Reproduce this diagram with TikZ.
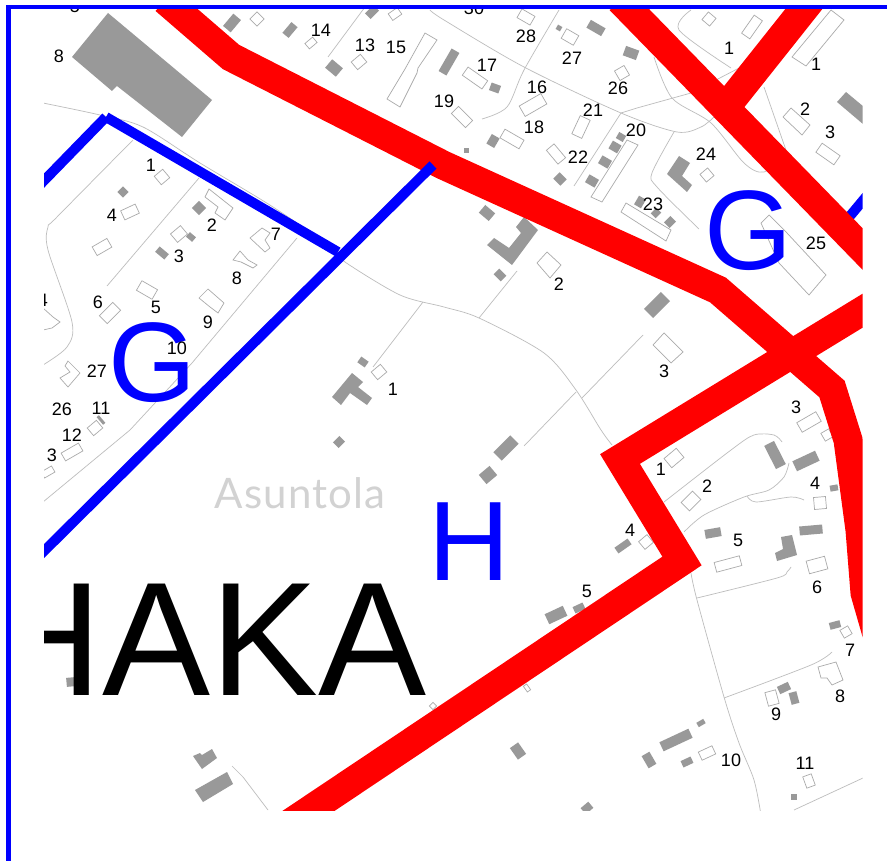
\documentclass[tikz,border=0pt]{standalone}
\usepackage{fontspec}
\setmainfont{Liberation Sans}
\newfontfamily\asufont[LetterSpace = 2.5]{Lato}
\definecolor{plotgray}{HTML}{999999}
\definecolor{roadgray}{HTML}{BDBDBD}
\definecolor{houseline}{HTML}{AAAAAA}
\tikzset{
    roadline/.style = {draw = roadgray, line width = 0.7pt},
    plotbuilding/.style = {fill = plotgray},
    plothouse/.style = {draw = houseline, line width = 0.7pt, fill = white},
    redborder/.style = {draw = red, line width = 29pt, line join = miter},
    blueborder/.style = {draw = blue, line width = 10pt, line join = miter},
    plotnum/.style = {inner sep = 0pt, font = \fontsize{18}{18}\selectfont},
    zoneletter/.style = {inner sep = 0pt, anchor = base, text = blue, font = \fontsize{113}{113}\selectfont}
}
\begin{document}
\begin{tikzpicture}[x = 1pt, y = -1pt]
    \useasboundingbox (0,0) rectangle (887,861);
    \fill[white] (0,0) rectangle (887,861);
    \begin{scope}
        \clip (44,10) rectangle (862.5,810);
        \draw[roadline] plot[smooth, tension = 0.5] coordinates{(43,103) (100,115) (143,127) (200,163) (273,207) (338,252) (345,262) (400,295) (444,307) (479,318) (544,353) (576,390) (601,430) (612,445)};
        \draw[roadline] plot[smooth, tension = 0.5] coordinates{(691,573) (697,600) (724,697) (739,743) (754,780) (761,815)};
        \draw[roadline] plot[smooth, tension = 0.5] coordinates{(133,140) (57,217) (48,227) (48,250) (72,322) (67,347) (43,365)};
        \draw[roadline] (199,178) -- (107,286);
        \draw[roadline] (297,238) -- (192,363) -- (130,430) -- (43,502);
        \draw[roadline] (423,302) -- (373,367);
        \draw[roadline] (328,57) -- (365,7);
        \draw[roadline] plot[smooth, tension = 0.5] coordinates{(430,10) (444,20) (524,67) (621,113) (677,132) (701,127) (714,117)};
        \draw[roadline] plot[smooth, tension = 0.5] coordinates{(559,10) (524,70) (507,107) (482,119)};
        \draw[roadline] (621,113) -- (574,186);
        \draw[roadline] (621,113) -- (637,108) -- (691,93) -- (741,67);
        \draw[roadline] plot[smooth, tension = 0.5] coordinates{(654,57) (672,98) (711,123) (744,163) (764,172) (787,153)};
        \draw[roadline] plot[smooth, tension = 0.5] coordinates{(691,10) (679,30) (731,68)};
        \draw[roadline] (764,87) -- (787,153);
        \draw[roadline] plot[smooth, tension = 0.5] coordinates{(674,132) (652,173) (657,187) (699,229)};
        \draw[roadline] (517,271) -- (479,318);
        \draw[roadline] (643,335) -- (582,398);
        \draw[roadline] (576,392) -- (524,446);
        \draw[roadline] plot[smooth, tension = 0.5] coordinates{(664,502) (731,450) (754,435) (774,435) (782,442)};
        \draw[roadline] plot[smooth, tension = 0.5] coordinates{(684,532) (704,515) (744,497) (769,490) (784,477) (789,463)};
        \draw[roadline] plot[smooth, tension = 0.5] coordinates{(747,496) (756,502) (791,497) (804,500)};
        \draw[roadline] plot[smooth, tension = 0.5] coordinates{(697,598) (777,578) (787,572) (791,567)};
        \draw[roadline] plot[smooth, tension = 0.5] coordinates{(724,698) (811,665) (832,652)};
        \draw[roadline] (794,810) -- (863,778);
        \draw[roadline] (232,766) -- (243,777) -- (268,810);
        \foreach \x/\y/\w/\h/\a in {257/19/10/10/45, 395/14/11/8/35, 311/43/10/7/40, 359/62/12/10/40, 162/177/11/11/40, 130/212/16/10/25, 102/247/17/10/30, 179/234/13/11/40, 147/290/18/11/-30, 110/313/19/11/45, 95/428/12/10/40, 379/372/12/10/40, 72/452/20/9/30, 48/472/12/7/30, 433/706/5/5/45, 709/19/10/10/-40, 752/27/22/10/55, 526/17/10/15/60, 570/37/11/14/60, 622/73/11/11/30, 475/78/24/10/-35, 462/117/20/10/-45, 533/105/25/12/30, 512/139/22/10/-30, 581/127/20/11/65, 556/154/18/10/-50, 707/175/10/10/40, 828/154/22/11/-35, 809/422/22/11/30, 827/435/9/9/30, 674/458/16/12/40, 691/501/16/12/45, 820/503/12/12/5, 646/542/11/10/40, 728/564/26/10/15, 817/565/19/13/15, 846/632/9/9/30, 772/698/11/14/15, 707/753/15/9/25, 809/781/9/12/20, 527/688/4/7/35}
            \draw[plothouse, shift = {(\x,\y)}, rotate = \a] (-\w/2,-\h/2) rectangle (\w/2,\h/2);
        \draw[plothouse] (425,33) -- (437,40) -- (418,68) -- (417,73) -- (400,107) -- (387,99) -- (405,69) -- cycle;
        \draw[plothouse] (209,189) -- (233,208) -- (225,220) -- (215,213) -- (218,207) -- (205,197) -- cycle;
        \draw[plothouse] (262,228) -- (270,233) -- (265,240) -- (270,248) -- (265,252) -- (250,238) -- cycle;
        \draw[plothouse] (240,251) -- (248,260) -- (257,265) -- (253,268) -- (241,262) -- (233,260) -- cycle;
        \draw[plothouse] (208,289) -- (224,303) -- (218,313) -- (210,307) -- (199,298) -- cycle;
        \draw[plothouse] (43,308) -- (53,317) -- (60,322) -- (52,328) -- (43,330);
        \draw[plothouse] (68,361) -- (80,373) -- (68,387) -- (60,378) -- (70,372) -- (65,366) -- cycle;
        \draw[plothouse] (831,10) -- (844,20) -- (806,66) -- (792,57) -- cycle;
        \draw[plothouse] (627,140) -- (638,145) -- (602,202) -- (591,197) -- cycle;
        \draw[plothouse] (626,203) -- (671,230) -- (666,241) -- (621,212) -- cycle;
        \draw[plothouse] (547,252) -- (561,265) -- (550,278) -- (537,263) -- cycle;
        \draw[plothouse] (664,333) -- (683,352) -- (671,363) -- (653,345) -- cycle;
        \draw[plothouse] (769,215) -- (787,233) -- (826,275) -- (809,295) -- (779,263) -- (761,223) -- cycle;
        \draw[plothouse] (791,108) -- (810,125) -- (802,135) -- (783,117) -- cycle;
        \draw[plothouse] (818,667) -- (836,662) -- (843,680) -- (832,685) -- (827,678) -- (821,678) -- cycle;
        \foreach \x/\y/\w/\h/\a in {232/23/16/10/50, 290/30/14/8/50, 372/12/12/8/45, 334/68/14/11/-40, 449/62/26/9/60, 123/192/8/8/-45, 199/208/10/10/45, 191/237/8/6/-40, 162/253/12/7/-40, 101/420/10/3/-50, 363/362/9/7/-35, 339/442/9/8/45, 596/28/17/9/-30, 631/53/14/10/-20, 559/28/5/5/-30, 495/88/10/8/-20, 493/141/11/9/60, 466/151/5/5/0, 560/179/10/9/-45, 621/137/8/7/-30, 615/147/10/9/-30, 605/162/11/9/-30, 592/181/11/9/-30, 640/202/10/8/60, 656/213/8/7/45, 670/222/9/8/45, 487/213/13/10/-40, 500/275/10/8/-45, 657/305/24/13/45, 506/448/24/12/45, 488/475/14/12/40, 775/455/26/11/-63, 806/461/25/11/25, 834/488/8/6/10, 713/533/16/9/10, 811/530/23/9/5, 623/546/16/7/35, 556/615/20/11/25, 579/608/11/7/25, 835/625/11/7/15, 784/688/12/8/25, 794/698/12/8/-75, 701/723/8/5/30, 676/740/32/10/25, 649/760/14/9/-60, 687/762/11/7/25, 518/751/14/10/-55, 794/797/6/6/0, 587/808/10/8/40, 71/682/9/9/5}
            \fill[plotbuilding, shift = {(\x,\y)}, rotate = \a] (-\w/2,-\h/2) rectangle (\w/2,\h/2);
        \fill[plotbuilding] (108,13) -- (212,100) -- (182,137) -- (117,86) -- (112,91) -- (72,57) -- cycle;
        \fill[plotbuilding] (352,373) -- (363,382) -- (358,387) -- (372,398) -- (367,405) -- (350,393) -- (341,405) -- (332,397) -- cycle;
        \fill[plotbuilding] (679,156) -- (690,163) -- (682,176) -- (692,185) -- (687,192) -- (667,174) -- cycle;
        \fill[plotbuilding] (524,217) -- (538,230) -- (512,265) -- (487,245) -- (494,238) -- (509,248) -- (521,233) -- (516,227) -- cycle;
        \fill[plotbuilding] (837,102) -- (846,92) -- (870,112) -- (870,130) -- cycle;
        \fill[plotbuilding] (781,537) -- (792,535) -- (797,555) -- (777,561) -- (775,553) -- (783,549) -- cycle;
        \fill[plotbuilding] (193,756) -- (200,753) -- (202,755) -- (212,749) -- (217,758) -- (202,769) -- cycle;
        \fill[plotbuilding] (195,790) -- (227,772) -- (233,784) -- (203,802) -- cycle;
        \draw[blueborder] (840,228) -- (875,186);
        \draw[redborder] (165,0) -- (231,57) -- (443,165) -- (718,290) -- (832,389) -- (848,440) -- (860,530) -- (865,593) -- (880,645);
        \draw[redborder] (620,0) -- (885,272);
        \draw[redborder] (811,0) -- (722,112);
        \draw[redborder] (885,297) -- (620,459) -- (682,561) -- (280,830);
        \draw[blueborder] (30,195) -- (106,117);
        \draw[blueborder] (106,117) -- (338,252);
        \draw[blueborder, line cap = butt] (433,165) -- (30,565);
        \node[zoneletter] (zoneG) at (152.5,401) {G};
        \node[zoneletter] (zoneGb) at (748,270) {G};
        \node[zoneletter] (zoneH) at (469,580) {H};
        \node[inner sep = 0pt, anchor = base west, font = \fontsize{162}{162}\selectfont] (haka) at (-15,695) {HAKA};
        \node[inner sep = 0pt, anchor = base, text = gray!35, font = \asufont\fontsize{42}{42}\selectfont] (asuntola) at (300,508) {Asuntola};
        \foreach \x/\y/\t [count = \i] in {75/6/5, 59/56/8, 321/30/14, 365/45/13, 396/47/15, 151/165/1, 112/215/4, 212/225/2, 179/256/3, 276/234/7, 237/278/8, 98/302/6, 156/307/5, 208/322/9, 177/348/10, 97/371/27, 62/409/26, 101/408/11, 72/435/12, 52/455/3, 43/300/4, 393/389/1, 444/101/19, 474/8/30, 526/36/28, 572/58/27, 487/65/17, 537/87/16, 618/88/26, 593/110/21, 534/127/18, 636/130/20, 578/157/22, 706/154/24, 653/204/23, 816/243/25, 729/48/1, 816/64/1, 805/109/2, 830/132/3, 559/284/2, 664/371/3, 796/407/3, 661/469/1, 707/486/2, 815/483/4, 630/530/4, 738/540/5, 817/587/6, 587/591/5, 850/650/7, 840/696/8, 776/714/9, 731/760/10, 805/763/11}
            \node[plotnum] (num\i) at (\x,\y) {\t};
    \end{scope}
    \fill[blue] (6,5) rectangle (11,861);
    \fill[blue] (6,5) rectangle (887,9.5);
\end{tikzpicture}
\end{document}
